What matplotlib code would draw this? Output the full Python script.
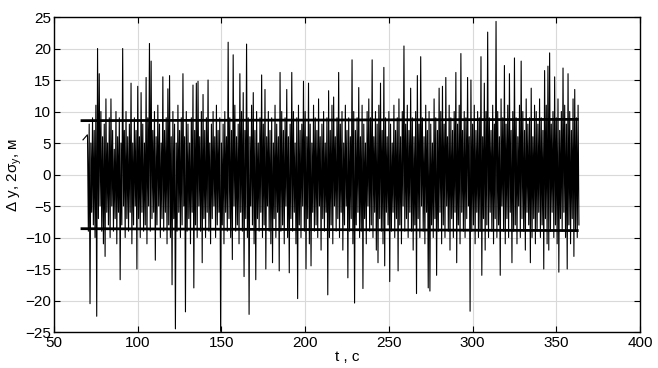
import numpy as np
import matplotlib
matplotlib.use("Agg")
import matplotlib.pyplot as plt

plt.rcParams['font.family'] = ['Liberation Sans', 'DejaVu Sans']

# lead-in segment before the noise record
lead_t = [67.3, 69.9]
lead_v = [5.5, 6.3]

# record start time (s); one upward and one downward excursion per second
t_start = 70

up_vals = [
    6, 8, 5, 9, 7, 11, 20, 16, 10, 6,
    8, 12, 5, 9, 12, 7, 4, 10, 6, 9,
    5, 20, 7, 10, 6, 8, 14.5, 5, 9, 7,
    14, 6, 13, 8, 5, 15.4, 9, 20.8, 18, 7,
    10, 6, 11, 8, 5, 15.5, 7, 9, 13.6, 15.7,
    6, 10, 8, 5, 11, 7, 9, 16, 6, 10,
    8, 5, 9, 14.2, 7, 14.5, 14.8, 6, 10, 12.7,
    7, 9, 15, 5, 8, 10, 6, 11, 7, 9,
    5, 8, 10, 6, 21, 9, 7, 19, 11, 6,
    8, 16, 10, 13, 7, 20.7, 9, 6, 11, 13,
    7, 10, 5, 9, 15.8, 8, 13.5, 6, 10, 7,
    9, 5, 11, 8, 6, 16.2, 10, 7, 9, 13.5,
    6, 8, 16.2, 10, 5, 9, 11, 7, 8, 14.8,
    10, 6, 14.5, 8, 5, 11, 9, 7, 12, 6,
    8, 10, 5, 9, 13.3, 7, 11, 12.3, 6, 9,
    16.2, 8, 10, 5, 11, 7, 9, 6, 18.2, 10,
    7, 9, 13.8, 6, 11, 8, 5, 10, 12, 9,
    18.2, 6, 10, 8, 11, 14.5, 7, 17, 9, 6,
    10, 8, 5, 11, 7, 9, 12, 6, 10, 20.4,
    8, 11, 7, 13.7, 9, 6, 10, 15.7, 8, 18.7,
    9, 6, 11, 7, 10, 8, 5, 12, 9, 7,
    13.7, 10, 14, 8, 15.4, 6, 11, 9, 7, 10,
    16.2, 8, 11, 19.2, 7, 10, 9, 15.4, 6, 15,
    8, 11, 7, 10, 9, 18.7, 6, 14.5, 10, 22.6,
    9, 7, 11, 8, 24.3, 10, 6, 12, 9, 17.3,
    8, 11, 16, 7, 10, 18.5, 9, 6, 11, 18,
    10, 7, 12, 8, 9, 13.7, 6, 11, 10, 8,
    12, 9, 7, 16.5, 11, 17.2, 19.3, 8, 10, 15.5,
    9, 12, 7, 10, 16.9, 11, 8, 16, 10, 7,
    12, 13.5, 9, 11,
]

down_vals = [
    -9, -20.5, -6, -8, -10, -22.5, -7, -5, -9, -11,
    -13, -6, -8, -10, -5, -9, -7, -11, -6, -16.7,
    -8, -5, -10, -7, -9, -6, -11, -8, -5, -15,
    -7, -10, -6, -9, -8, -11, -5, -9, -7, -6,
    -13.6, -8, -5, -10, -7, -9, -6, -11, -8, -10,
    -17.5, -7, -24.5, -9, -6, -10, -8, -5, -21.8, -9,
    -7, -11, -6, -18, -8, -10, -5, -9, -14, -7,
    -10, -6, -9, -11, -7, -5, -10, -8, -6, -24.9,
    -8, -11, -6, -9, -7, -10, -13.5, -5, -9, -8,
    -11, -6, -9, -16.2, -7, -10, -22.2, -5, -8, -11,
    -16.7, -7, -9, -6, -10, -8, -15, -5, -9, -11,
    -14, -7, -10, -6, -15.3, -9, -8, -11, -5, -10,
    -15.6, -7, -9, -6, -11, -19.7, -8, -10, -5, -9,
    -15, -7, -11, -14.5, -6, -9, -8, -10, -5, -12,
    -7, -9, -6, -19.1, -10, -8, -11, -5, -9, -7,
    -10, -6, -12, -8, -5, -16.4, -9, -7, -11, -20.4,
    -8, -6, -10, -9, -18.1, -7, -11, -5, -9, -8,
    -10, -6, -12, -14, -7, -9, -11, -14.5, -6, -8,
    -17, -9, -6, -10, -7, -15.3, -8, -11, -5, -9,
    -7, -10, -6, -9, -12, -8, -18.9, -7, -10, -5,
    -9, -11, -6, -18, -18.5, -8, -10, -7, -16, -9,
    -6, -11, -8, -10, -5, -9, -12, -7, -10, -6,
    -14, -8, -11, -6, -9, -10, -7, -5, -21.7, -9,
    -8, -11, -6, -10, -9, -16, -7, -12, -8, -10,
    -6, -9, -11, -7, -10, -8, -16, -5, -9, -11,
    -7, -10, -6, -14, -9, -8, -11, -5, -10, -7,
    -9, -12, -6, -8, -14, -10, -7, -11, -9, -6,
    -10, -8, -15, -7, -11, -12, -9, -6, -10, -8,
    -11, -15.5, -7, -9, -6, -10, -15, -8, -11, -7,
    -13, -9, -10, -8,
]

# 2-sigma bounds
sig_t = [66.7, 362.5]
sig_up = [8.55, 8.75]
sig_lo = [-8.6, -8.9]

x_ticks = [50, 100, 150, 200, 250, 300, 350, 400]
y_ticks = [-25, -20, -15, -10, -5, 0, 5, 10, 15, 20, 25]

# assemble the record: up excursion at t, down excursion at t+0.5
n = len(up_vals)
sec = t_start + np.arange(n)
t_rec = np.empty(2 * n)
v_rec = np.empty(2 * n)
t_rec[0::2] = sec
t_rec[1::2] = sec + 0.5
v_rec[0::2] = up_vals
v_rec[1::2] = down_vals
t_all = np.concatenate([lead_t, t_rec])
v_all = np.concatenate([lead_v, v_rec])

fig = plt.figure(figsize=(6.58, 3.68), dpi=100)
ax = fig.add_axes([0.0821, 0.0978, 0.8906, 0.856])

ax.plot(t_all, v_all, color='black', lw=0.8)
ax.plot(sig_t, sig_up, color='black', lw=2.0)
ax.plot(sig_t, sig_lo, color='black', lw=2.0)

ax.set_xlim(50, 400)
ax.set_ylim(-25, 25)
ax.set_xticks(x_ticks)
ax.set_yticks(y_ticks)
ax.grid(True, color='#d9d9d9', lw=0.8)
ax.set_axisbelow(True)
ax.tick_params(direction='in', top=True, right=True, length=4, labelsize=11, width=0.8)
ax.tick_params(axis='y', pad=2)
ax.tick_params(axis='x', pad=3)
for s in ax.spines.values():
    s.set_linewidth(1.0)

ax.set_xlabel('t , c', fontsize=11, labelpad=0)
ax.set_ylabel('Δ y, 2σ$_\\mathregular{y}$, м', fontsize=11, labelpad=1)

fig.savefig('out.png', dpi=100)
